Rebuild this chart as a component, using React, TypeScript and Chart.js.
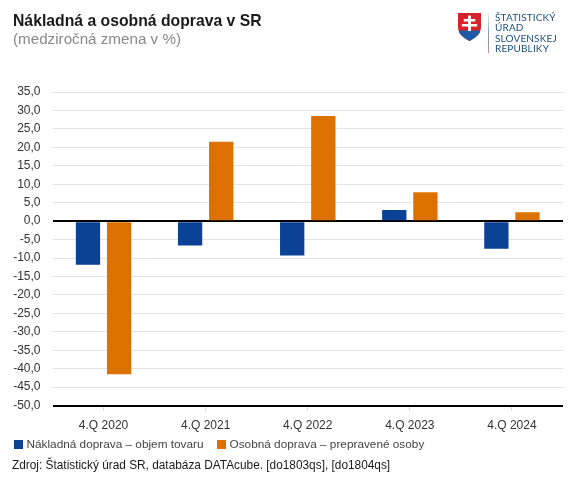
import React, { useEffect, useRef } from "react";
import { Chart, registerables } from "chart.js";

Chart.register(...registerables);

const categories = ["4.Q 2020", "4.Q 2021", "4.Q 2022", "4.Q 2023", "4.Q 2024"];
const freight = [-11.8, -6.6, -9.3, 3.0, -7.5];
const passengers = [-41.5, 21.5, 28.5, 7.8, 2.4];
const freightLabel = "Nákladná doprava – objem tovaru";
const passengerLabel = "Osobná doprava – prepravené osoby";
const titleText = "Nákladná a osobná doprava v SR";
const subtitleText = "(medziročná zmena v %)";
const sourceText = "Zdroj: Štatistický úrad SR, databáza DATAcube. [do1803qs], [do1804qs]";
const logoLines = ["ŠTATISTICKÝ", "ÚRAD", "SLOVENSKEJ", "REPUBLIKY"];

const FONT = "'Liberation Sans', Arial, sans-serif";

export default function App() {
  const ref = useRef<HTMLCanvasElement>(null);
  useEffect(() => {
    const chart = new Chart(ref.current!, {
      type: "bar",
      data: {
        labels: categories,
        datasets: [
          { label: freightLabel, data: freight, backgroundColor: "#0B4295" },
          { label: passengerLabel, data: passengers, backgroundColor: "#DC7000" },
        ],
      },
      options: {
        responsive: false,
        animation: false,
        devicePixelRatio: 1,
        layout: { padding: { left: 0, right: 10, top: 92, bottom: 39 } },
        datasets: { bar: { categoryPercentage: 0.61, barPercentage: 0.78 } },
        plugins: {
          title: { display: false },
          legend: { display: false },
          tooltip: { enabled: false },
        },
        scales: {
          x: {
            position: "bottom",
            grid: {
              drawOnChartArea: false,
              drawTicks: true,
              tickLength: 5,
              color: "#d9d9d9",
              offset: false,
            },
            border: { display: false },
            ticks: { color: "#333333", font: { family: FONT, size: 12 }, padding: 8, maxRotation: 0 },
          },
          y: {
            min: -50,
            max: 35,
            afterFit: (s: any) => { s.width = 52.5; },
            ticks: {
              stepSize: 5,
              color: "#333333",
              font: { family: FONT, size: 12 },
              padding: 12,
              callback: (v: any) => Number(v).toFixed(1).replace(".", ","),
            },
            border: { display: false },
            grid: {
              drawTicks: false,
              lineWidth: (c: any) => (c.tick.value === 0 || c.tick.value === -50 ? 2 : 1),
              color: (c: any) => (c.tick.value === 0 || c.tick.value === -50 ? "#000000" : "#e3e3e3"),
            },
          },
        },
      },
    });
    return () => chart.destroy();
  }, []);

  const swatch = (color: string, left: number): React.CSSProperties => ({
    position: "absolute", left, top: 440, width: 9, height: 9, background: color,
  });
  const legendText = (left: number): React.CSSProperties => ({
    position: "absolute", left, top: 437, fontSize: 11.8, color: "#444", whiteSpace: "nowrap",
  });

  return (
    <div style={{ position: "absolute", left: 0, top: 0, width: 573, height: 480, overflow: "hidden", background: "#fff", fontFamily: FONT }}>
      <canvas ref={ref} width={573} height={480} style={{ position: "absolute", left: 0, top: 0 }} />
      <div style={{ position: "absolute", left: 13, top: 12, fontSize: 15.75, fontWeight: 700, color: "#1a1a1a" }}>{titleText}</div>
      <div style={{ position: "absolute", left: 13, top: 30, fontSize: 15.2, color: "#8a8a8a" }}>{subtitleText}</div>
      <span style={swatch("#0B4295", 14)} />
      <div style={legendText(26.5)}>{freightLabel}</div>
      <span style={swatch("#DC7000", 217)} />
      <div style={legendText(229.5)}>{passengerLabel}</div>
      <div style={{ position: "absolute", left: 12, top: 458, fontSize: 11.85, color: "#1a1a1a", whiteSpace: "nowrap" }}>{sourceText}</div>
      <svg style={{ position: "absolute", left: 458, top: 13 }} width={23} height={28} viewBox="0 0 24 28" preserveAspectRatio="none">
        <path d="M0 0H24V14C24 21 18 25 12 28C6 25 0 21 0 14Z" fill="#D8222A" />
        <path d="M1 19C5 15 8 20 12 16C16 20 19 15 23 19C21 23 16 26 12 28C8 26 3 23 1 19Z" fill="#1F5AA8" />
        <path d="M10.5 2.5H13.5V6H18V8.5H13.5V11H20V13.5H13.5V18H10.5V13.5H4V11H10.5V8.5H6V6H10.5Z" fill="#fff" />
      </svg>
      <div style={{ position: "absolute", left: 487.5, top: 13, width: 1.5, height: 40, background: "linear-gradient(#e8eef4,#7f9bb5,#c98a80)" }} />
      <div style={{ position: "absolute", left: 495, top: 11.5, fontSize: 10, lineHeight: "10.5px", letterSpacing: 0.15, color: "#1d4f7c", fontFamily: "Lato, sans-serif" }}>
        {logoLines.map((l) => <div key={l}>{l}</div>)}
      </div>
    </div>
  );
}
